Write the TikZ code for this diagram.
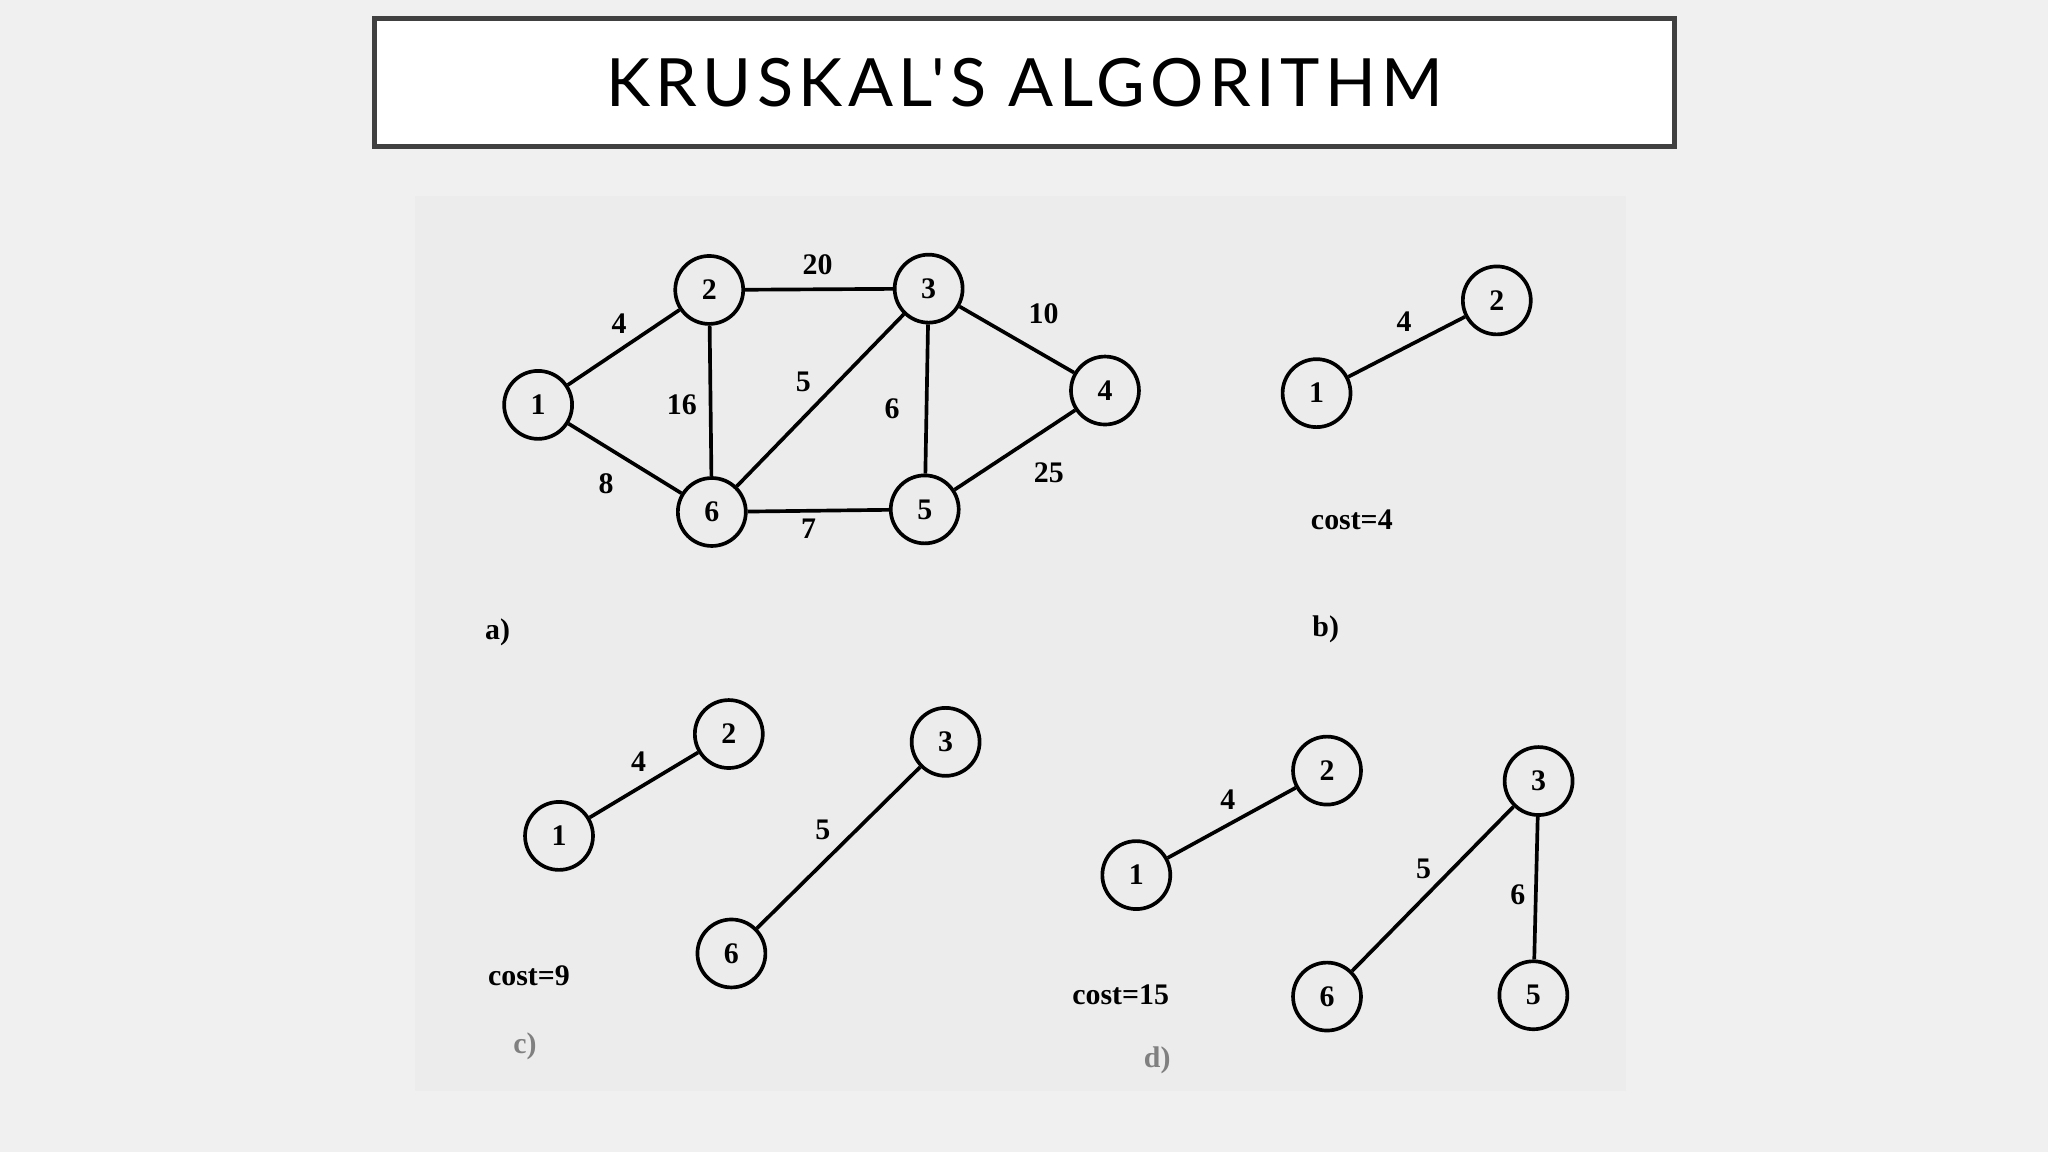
\documentclass[tikz,border=0pt]{standalone}
\usepackage{fontspec}
\setmainfont{Liberation Serif}
\newfontfamily\titlefont[LetterSpace=8]{Lato}
\definecolor{slidebg}{RGB}{240,240,240}
\definecolor{scanbg}{RGB}{236,236,236}
\definecolor{frame}{RGB}{64,64,64}
\begin{document}
\begin{tikzpicture}[
  x=0.01cm, y=-0.01cm,
  vtx/.style={circle, draw, thick, minimum size=0.52cm, inner sep=0pt, font=\fontsize{6.5}{7}\selectfont\bfseries},
  edge/.style={thick},
  wlbl/.style={font=\fontsize{6.5}{7}\selectfont\bfseries},
  tag/.style={font=\fontsize{6.5}{7}\selectfont\bfseries}
]
\useasboundingbox[fill=slidebg] (0,0) rectangle (1568,882);
\fill[scanbg] (318,150) rectangle (1245,835);

% Title
\node[draw=frame, line width=1.1pt, fill=white,
  minimum width=9.95cm, minimum height=0.98cm, font=\titlefont\fontsize{14.5}{16}\selectfont]
  (title) at (784.5,63) {KRUSKAL'S ALGORITHM};

% a) full graph
\node[vtx] (a1) at (412,310) {1};
\node[vtx] (a2) at (543,222) {2};
\node[vtx] (a3) at (711,221) {3};
\node[vtx] (a4) at (846,299) {4};
\node[vtx] (a6) at (545,392) {6};
\node[vtx] (a5) at (708,390) {5};
\draw[edge] (a1) -- (a2);
\draw[edge] (a2) -- (a3);
\draw[edge] (a3) -- (a4);
\draw[edge] (a2) -- (a6);
\draw[edge] (a6) -- (a3);
\draw[edge] (a3) -- (a5);
\draw[edge] (a1) -- (a6);
\draw[edge] (a6) -- (a5);
\draw[edge] (a5) -- (a4);
\node[wlbl] at (474,248) {4};
\node[wlbl] at (626,203) {20};
\node[wlbl] at (799,240) {10};
\node[wlbl] at (522,310) {16};
\node[wlbl] at (615,292) {5};
\node[wlbl] at (683,313) {6};
\node[wlbl] at (464,370) {8};
\node[wlbl] at (619,405) {7};
\node[wlbl] at (803,362) {25};
\node[tag] at (381,484) {a)};

% b)
\node[vtx] (b1) at (1008,301) {1};
\node[vtx] (b2) at (1146,230) {2};
\draw[edge] (b1) -- (b2);
\node[wlbl] at (1075,246) {4};
\node[tag] at (1035,398) {cost=4};
\node[tag] at (1015,482) {b)};

% c)
\node[vtx] (c1) at (428,640) {1};
\node[vtx] (c2) at (558,562) {2};
\node[vtx] (c3) at (724,568) {3};
\node[vtx] (c6) at (560,730) {6};
\draw[edge] (c1) -- (c2);
\draw[edge] (c6) -- (c3);
\node[wlbl] at (489,583) {4};
\node[wlbl] at (630,635) {5};
\node[tag] at (405,747) {cost=9};
\node[tag, gray] at (402,801) {c)};

% d)
\node[vtx] (d1) at (870,670) {1};
\node[vtx] (d2) at (1016,590) {2};
\node[vtx] (d3) at (1178,598) {3};
\node[vtx] (d6) at (1016,763) {6};
\node[vtx] (d5) at (1174,762) {5};
\draw[edge] (d1) -- (d2);
\draw[edge] (d6) -- (d3);
\draw[edge] (d3) -- (d5);
\node[wlbl] at (940,612) {4};
\node[wlbl] at (1090,665) {5};
\node[wlbl] at (1162,685) {6};
\node[tag] at (858,762) {cost=15};
\node[tag, gray] at (886,812) {d)};
\end{tikzpicture}
\end{document}
